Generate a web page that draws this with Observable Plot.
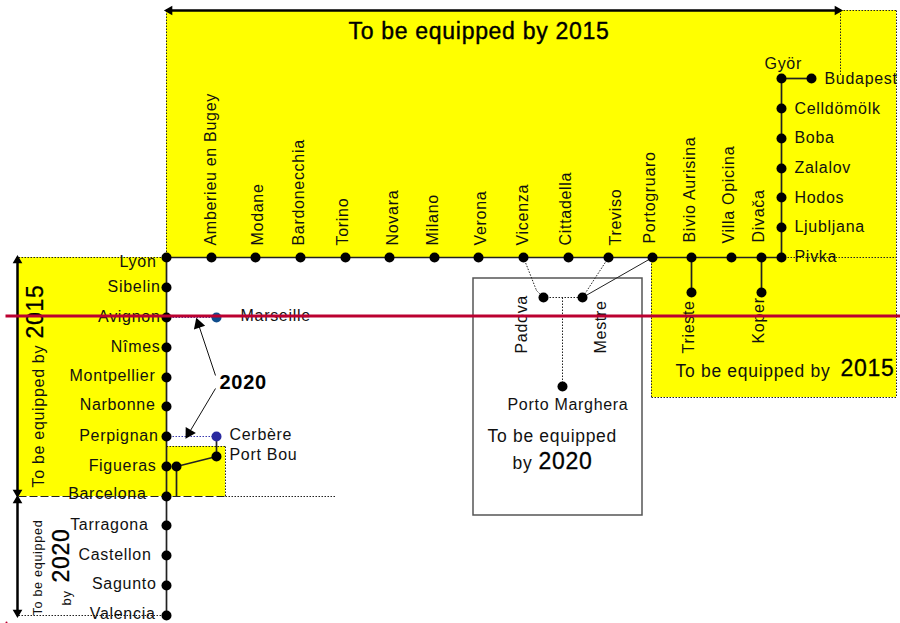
<!DOCTYPE html>
<html><head><meta charset="utf-8">
<script src="https://cdn.jsdelivr.net/npm/d3@7"></script>
<script src="https://cdn.jsdelivr.net/npm/@observablehq/plot@0.6"></script>
<style>html,body{margin:0;padding:0;background:#fff;overflow:hidden}svg{display:block}</style>
</head><body><div id="c"></div>
<script>
// Stations: name, x, y in the diagram's own units
const eastNames = ["Amberieu en Bugey","Modane","Bardonecchia","Torino","Novara","Milano","Verona","Vicenza","Cittadella","Treviso","Portogruaro","Bivio Aurisina","Villa Opicina","Divača"];
const eastX = [211,255,300,345,389,434,478,523,568,608,652,691,731,761];
const eastLabelX = [210,257,298,342,392,432,480,522,565,615,649,689,728,758];
const eastLabelY = [245,245,245,245,245,245,245,245,245,245,243,242,243,242];
const trunkY = 257;

const westNames = ["Lyon","Sibelin","Avignon","Nîmes","Montpellier","Narbonne","Perpignan","Figueras","Barcelona","Tarragona","Castellon","Sagunto","Valencia"];
const westY = [257,287,317,347,377,406,436,466,496,525,555,585,615];
const westLabelX = [156,160,160,160,155,155,158,156,146,148,151,156,155];
const westLabelY = [261,286,316,346,375,404,435,465,493,524,554,583,613];
const westX = 166;

const hungaryNames = ["Györ","Celldömölk","Boba","Zalalov","Hodos","Ljubljana","Pivka"];
const hungaryY = [78,108,138,168,197,227,257];
const hungaryLabelX = [764,794,794,794,794,794,794];
const hungaryLabelY = [63,108,137,167,197,226,256];
const hungaryX = 781;

const branchPoints = [[811,78],[691,292],[761,292],[543,297],[582,297],[562,386],[176,466],[216,456]];
const blueDots = [[216,317,"#0f4c8c"],[216,436,"#2b2ba0"]];

const otherLabels = [["Budapest",824,78],["Marseille",240,315],["Cerbère",229,434],["Port Bou",229,454],["Porto Marghera",507,404]];
const captionLabels = [["To be equipped",487,436],["by",512,463],["To be equipped by",675,371]];
const verticalLabels = [["Padova",521,353],["Mestre",600,353],["Trieste",688,353],["Koper",758,343],["To be equipped by",38,487]];

// Equipment zones [x1,y1,x2,y2]
const zones = [[166,10,896,257],[651,257,896,397],[18,257,166,496],[166,446,225,496]];
// Solid track segments
const track = [[166,257,781,257],[781,78,781,257],[781,78,811,78],[166,257,166,615],[691,257,691,292],[761,257,761,292],[216,436,216,456],[176,466,216,456],[176,466,176,496]];
const thinTrack = [[652,257,582,297]];
const dotted = [[166,10,166,257],[166,257,608,257],[781,257,896,257],[840,10,896,10],[840,10,840,75],[896,10,896,397],[651,257,651,397],[651,397,896,397],[18,257,166,257],[166,446,225,446],[225,446,225,496],[225,496,335,496],[18,615,166,615],[523,257,536,290],[536,290,543,297],[608,257,582,297],[543,297,582,297],[562,297,562,386]];
const dashed = [[18,496,225,496]];
const blueDotted = [[166,317,216,317],[166,436,216,436]];
const spans = [[166,10,840,10],[840,10,166,10],[17,257,17,495],[17,495,17,257],[17,497,17,615],[17,615,17,497]];
const pointers = [[215,375,197,321],[215,388,187,435]];
const redLine = [[5,315.5,900,315.5]];

const seg = a => a.map(([x1,y1,x2,y2]) => ({x1,y1,x2,y2}));
const heading = (x1,y1,x2,y2) => Math.atan2(x2-x1, y1-y2)*180/Math.PI;
const FONT = "Liberation Sans, Arial, sans-serif";
const link = (a,o) => Plot.link(seg(a),{x1:"x1",y1:"y1",x2:"x2",y2:"y2",...o});
const label = (rows,o) => Plot.text(rows,{x:d=>d[1],y:d=>d[2],text:d=>d[0],fontFamily:FONT,fontSize:16,fill:"#111",...o});
const heads = (a,r,inset) => Plot.dot(a,{
  x:d=>d[2]-inset*Math.sin(heading(...d)*Math.PI/180),
  y:d=>d[3]+inset*Math.cos(heading(...d)*Math.PI/180),
  r, symbol:"triangle", fill:"#000", stroke:"none", rotate:d=>heading(...d)});

const eastRows = eastNames.map((n,i)=>[n,eastLabelX[i],eastLabelY[i]]);
const westRows = westNames.map((n,i)=>[n,westLabelX[i],westLabelY[i]]);
const hunRows = hungaryNames.map((n,i)=>[n,hungaryLabelX[i],hungaryLabelY[i]]);
const stationPts = [...eastX.map(x=>[x,trunkY]),...westY.map(y=>[westX,y]),...hungaryY.map(y=>[hungaryX,y]),...branchPoints];

const chart = Plot.plot({
  width:900,height:623,margin:0,
  x:{domain:[0,900],range:[0,900],axis:null},
  y:{domain:[0,623],range:[0,623],axis:null},
  style:{background:"#fff",letterSpacing:"0.7px"},
  marks:[
    Plot.rect(seg(zones),{x1:"x1",y1:"y1",x2:"x2",y2:"y2",fill:"#ffff00"}),
    Plot.rect(seg([[473,278,642,515]]),{x1:"x1",y1:"y1",x2:"x2",y2:"y2",fill:"none",stroke:"#555",strokeWidth:1.5}),
    link(track,{stroke:"#222",strokeWidth:1.7}),
    link(thinTrack,{stroke:"#222",strokeWidth:1}),
    link(dotted,{stroke:"#222",strokeWidth:1,strokeDasharray:"1.5,1.5"}),
    link(dashed,{stroke:"#222",strokeWidth:1,strokeDasharray:"8,3"}),
    link(blueDotted,{stroke:"#3a3ab0",strokeWidth:1,strokeDasharray:"1.5,1.5"}),
    link(spans,{stroke:"#000",strokeWidth:2}),
    heads(spans,3.6,3),
    link(pointers,{stroke:"#111",strokeWidth:1}),
    heads(pointers,4.4,3),
    Plot.dot(stationPts,{x:d=>d[0],y:d=>d[1],r:5,fill:"#000",stroke:"none"}),
    Plot.dot(blueDots,{x:d=>d[0],y:d=>d[1],r:5,fill:d=>d[2],stroke:"none"}),
    label(eastRows,{rotate:-90,textAnchor:"start"}),
    label(westRows,{textAnchor:"end"}),
    label(hunRows,{textAnchor:"start"}),
    label(otherLabels,{textAnchor:"start"}),
    label(captionLabels,{textAnchor:"start",fontSize:17.5}),
    label(verticalLabels,{rotate:-90,textAnchor:"start"}),
    label([["To be equipped",37,615]],{rotate:-90,textAnchor:"start",fontSize:12.6}),
    label([["by",66,605]],{rotate:-90,textAnchor:"start",fontSize:13}),
    label([["To be equipped by 2015",348,31]],{textAnchor:"start",fontSize:23,stroke:"#000",strokeWidth:0.4,fill:"#000"}),
    label([["2015",840,368],["2020",538,461]],{textAnchor:"start",fontSize:23,fill:"#000",stroke:"#000",strokeWidth:0.3}),
    label([["2015",35,338],["2020",61,582]],{rotate:-90,textAnchor:"start",fontSize:23,fill:"#000",stroke:"#000",strokeWidth:0.3}),
    label([["2020",219,382]],{textAnchor:"start",fontSize:20,fontWeight:"bold",fill:"#000"}),
    link(redLine,{stroke:"#bb0030",strokeWidth:3}),
    Plot.dot([[6,622]],{x:d=>d[0],y:d=>d[1],r:1,fill:"#bb0030",stroke:"none"})
  ]
});
document.getElementById("c").appendChild(chart);
</script></body></html>
